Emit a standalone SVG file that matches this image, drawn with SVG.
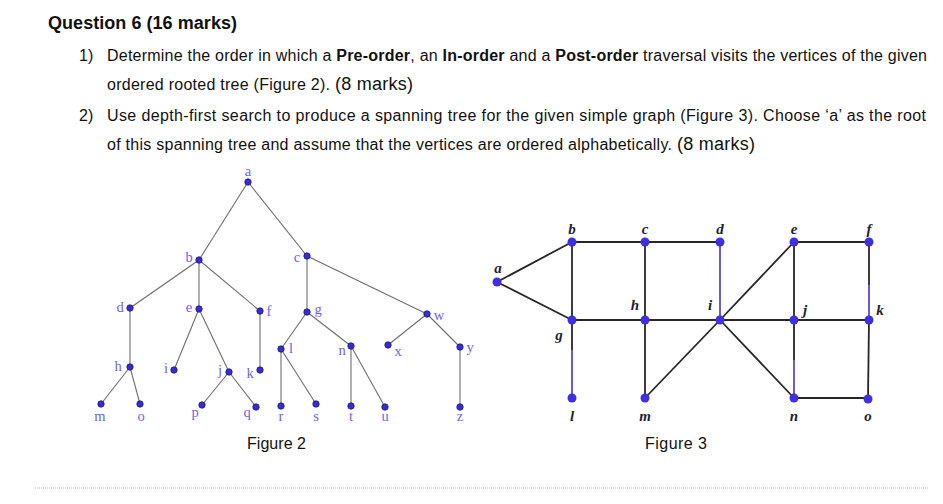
<svg xmlns="http://www.w3.org/2000/svg" width="943" height="504" viewBox="0 0 943 504">
<style>
.q{font-family:"Liberation Sans",Arial,sans-serif;fill:#111}
.t2 line{stroke:#6e6e6e;stroke-width:1.1}
.d2{fill:#3a2bd6;stroke:#1d1870;stroke-width:0.8}
.l2{font-family:"Liberation Serif","Times New Roman",serif;font-size:14.5px;fill:#6d5ff2;text-anchor:middle}
.t3 line{stroke:#262626;stroke-width:1.8}
.t3 line.p{stroke:#5a48d8}
.d3{fill:#3f2fe0}
.l3{font-family:"Liberation Serif","Times New Roman",serif;font-size:15px;font-weight:bold;font-style:italic;fill:#1e1e30;text-anchor:middle}
</style>
<rect width="943" height="504" fill="#fff"/>
<g id="text">
<text class="q" x="48" y="29" font-size="18" font-weight="bold" textLength="189">Question 6 (16 marks)</text>
<text class="q" x="79" y="61" font-size="16">1)</text>
<text class="q" x="107" y="61" font-size="16" textLength="820">Determine the order in which a <tspan font-weight="bold">Pre-order</tspan>, an <tspan font-weight="bold">In-order</tspan> and a <tspan font-weight="bold">Post-order</tspan> traversal visits the vertices of the given</text>
<text class="q" x="107" y="90" font-size="16" textLength="306">ordered rooted tree (Figure 2). <tspan font-size="18">(8 marks)</tspan></text>
<text class="q" x="79" y="121" font-size="16">2)</text>
<text class="q" x="107" y="121" font-size="16" textLength="819">Use depth-first search to produce a spanning tree for the given simple graph (Figure 3). Choose ‘a’ as the root</text>
<text class="q" x="107" y="150" font-size="16" textLength="648">of this spanning tree and assume that the vertices are ordered alphabetically. <tspan font-size="18">(8 marks)</tspan></text>
<text class="q" x="247" y="449" font-size="16" textLength="59">Figure 2</text>
<text class="q" x="645" y="449" font-size="16" textLength="62">Figure 3</text>
<line x1="35" y1="488" x2="928" y2="488" stroke="#bbb" stroke-width="1" stroke-dasharray="1 1"/>
</g>
<g id="fig2-edges" class="t2">
<line x1="248" y1="182" x2="199" y2="260"/>
<line x1="248" y1="182" x2="307" y2="256"/>
<line x1="199" y1="260" x2="130" y2="308"/>
<line x1="199" y1="260" x2="199" y2="309"/>
<line x1="199" y1="260" x2="260" y2="311"/>
<line x1="307" y1="256" x2="307" y2="312"/>
<line x1="307" y1="256" x2="427" y2="314"/>
<line x1="130" y1="308" x2="130" y2="367"/>
<line x1="130" y1="367" x2="101" y2="404"/>
<line x1="130" y1="367" x2="140" y2="404"/>
<line x1="199" y1="309" x2="174" y2="370"/>
<line x1="199" y1="309" x2="229" y2="372"/>
<line x1="229" y1="372" x2="202" y2="405"/>
<line x1="229" y1="372" x2="256" y2="407"/>
<line x1="260" y1="311" x2="260" y2="370"/>
<line x1="307" y1="312" x2="281" y2="349"/>
<line x1="307" y1="312" x2="351" y2="346"/>
<line x1="281" y1="349" x2="281" y2="406"/>
<line x1="281" y1="349" x2="316" y2="404"/>
<line x1="351" y1="346" x2="351" y2="406"/>
<line x1="351" y1="346" x2="385" y2="407"/>
<line x1="427" y1="314" x2="388" y2="345"/>
<line x1="427" y1="314" x2="460" y2="347"/>
<line x1="460" y1="347" x2="460" y2="407"/>
</g>
<g id="t-a"><circle class="d2" cx="248" cy="182" r="3.2"/><text class="l2" x="248" y="176">a</text></g>
<g id="t-b"><circle class="d2" cx="199" cy="260" r="3.2"/><text class="l2" x="189" y="262">b</text></g>
<g id="t-c"><circle class="d2" cx="307" cy="256" r="3.2"/><text class="l2" x="297" y="262">c</text></g>
<g id="t-d"><circle class="d2" cx="130" cy="308" r="3.2"/><text class="l2" x="120" y="312">d</text></g>
<g id="t-e"><circle class="d2" cx="199" cy="309" r="3.2"/><text class="l2" x="189" y="312">e</text></g>
<g id="t-f"><circle class="d2" cx="260" cy="311" r="3.2"/><text class="l2" x="269" y="316">f</text></g>
<g id="t-g"><circle class="d2" cx="307" cy="312" r="3.2"/><text class="l2" x="318" y="314">g</text></g>
<g id="t-w"><circle class="d2" cx="427" cy="314" r="3.2"/><text class="l2" x="439" y="320">w</text></g>
<g id="t-h"><circle class="d2" cx="130" cy="367" r="3.2"/><text class="l2" x="118" y="371">h</text></g>
<g id="t-i"><circle class="d2" cx="174" cy="370" r="3.2"/><text class="l2" x="166" y="373">i</text></g>
<g id="t-j"><circle class="d2" cx="229" cy="372" r="3.2"/><text class="l2" x="220" y="375">j</text></g>
<g id="t-k"><circle class="d2" cx="260" cy="370" r="3.2"/><text class="l2" x="250" y="378">k</text></g>
<g id="t-l"><circle class="d2" cx="281" cy="349" r="3.2"/><text class="l2" x="291" y="353">l</text></g>
<g id="t-n"><circle class="d2" cx="351" cy="346" r="3.2"/><text class="l2" x="342" y="355">n</text></g>
<g id="t-x"><circle class="d2" cx="388" cy="345" r="3.2"/><text class="l2" x="398" y="356">x</text></g>
<g id="t-y"><circle class="d2" cx="460" cy="347" r="3.2"/><text class="l2" x="470" y="352">y</text></g>
<g id="t-m"><circle class="d2" cx="101" cy="404" r="3.2"/><text class="l2" x="100" y="421">m</text></g>
<g id="t-o"><circle class="d2" cx="140" cy="404" r="3.2"/><text class="l2" x="141" y="421">o</text></g>
<g id="t-p"><circle class="d2" cx="202" cy="405" r="3.2"/><text class="l2" x="195" y="417">p</text></g>
<g id="t-q"><circle class="d2" cx="256" cy="407" r="3.2"/><text class="l2" x="247" y="417">q</text></g>
<g id="t-r"><circle class="d2" cx="281" cy="406" r="3.2"/><text class="l2" x="281" y="421">r</text></g>
<g id="t-s"><circle class="d2" cx="316" cy="404" r="3.2"/><text class="l2" x="316" y="421">s</text></g>
<g id="t-t"><circle class="d2" cx="351" cy="406" r="3.2"/><text class="l2" x="351" y="421">t</text></g>
<g id="t-u"><circle class="d2" cx="385" cy="407" r="3.2"/><text class="l2" x="385" y="421">u</text></g>
<g id="t-z"><circle class="d2" cx="460" cy="407" r="3.2"/><text class="l2" x="460" y="421">z</text></g>
<g id="fig3-edges" class="t3">
<line x1="497" y1="282" x2="572" y2="242"/>
<line x1="497" y1="282" x2="572" y2="320"/>
<line x1="572" y1="242" x2="720" y2="242"/>
<line x1="572" y1="242" x2="572" y2="320"/>
<line x1="645" y1="242" x2="645" y2="320"/>
<line class="p" x1="720" y1="242" x2="720" y2="320"/>
<line x1="794" y1="242" x2="869" y2="242"/>
<line x1="794" y1="242" x2="720" y2="320"/>
<line x1="794" y1="242" x2="794" y2="320"/>
<line x1="869" y1="242" x2="869" y2="285"/>
<line class="p" x1="869" y1="285" x2="869" y2="320"/>
<line x1="572" y1="320" x2="869" y2="320"/>
<line x1="572" y1="320" x2="572" y2="350"/>
<line class="p" x1="572" y1="350" x2="572" y2="398"/>
<line x1="645" y1="320" x2="645" y2="398"/>
<line x1="645" y1="398" x2="720" y2="320"/>
<line x1="720" y1="320" x2="794" y2="398"/>
<line x1="794" y1="320" x2="794" y2="360"/>
<line class="p" x1="794" y1="360" x2="794" y2="398"/>
<line x1="794" y1="398" x2="868" y2="398"/>
<line x1="869" y1="320" x2="868" y2="398"/>
</g>
<g id="g-a"><circle class="d3" cx="497" cy="282" r="4.5"/><text class="l3" x="498" y="273">a</text></g>
<g id="g-b"><circle class="d3" cx="572" cy="242" r="4.5"/><text class="l3" x="572" y="234">b</text></g>
<g id="g-c"><circle class="d3" cx="645" cy="242" r="4.5"/><text class="l3" x="645" y="234">c</text></g>
<g id="g-d"><circle class="d3" cx="720" cy="242" r="4.5"/><text class="l3" x="720" y="234">d</text></g>
<g id="g-e"><circle class="d3" cx="794" cy="242" r="4.5"/><text class="l3" x="794" y="234">e</text></g>
<g id="g-f"><circle class="d3" cx="869" cy="242" r="4.5"/><text class="l3" x="869" y="234">f</text></g>
<g id="g-g"><circle class="d3" cx="572" cy="320" r="4.5"/><text class="l3" x="559" y="340">g</text></g>
<g id="g-h"><circle class="d3" cx="645" cy="320" r="4.5"/><text class="l3" x="635" y="310">h</text></g>
<g id="g-i"><circle class="d3" cx="720" cy="320" r="4.5"/><text class="l3" x="710" y="310">i</text></g>
<g id="g-j"><circle class="d3" cx="794" cy="320" r="4.5"/><text class="l3" x="805" y="315">j</text></g>
<g id="g-k"><circle class="d3" cx="869" cy="320" r="4.5"/><text class="l3" x="880" y="315">k</text></g>
<g id="g-l"><circle class="d3" cx="572" cy="398" r="4.5"/><text class="l3" x="572" y="421">l</text></g>
<g id="g-m"><circle class="d3" cx="645" cy="398" r="4.5"/><text class="l3" x="645" y="421">m</text></g>
<g id="g-n"><circle class="d3" cx="794" cy="398" r="4.5"/><text class="l3" x="794" y="421">n</text></g>
<g id="g-o"><circle class="d3" cx="868" cy="399" r="4.5"/><text class="l3" x="868" y="421">o</text></g>
</svg>
